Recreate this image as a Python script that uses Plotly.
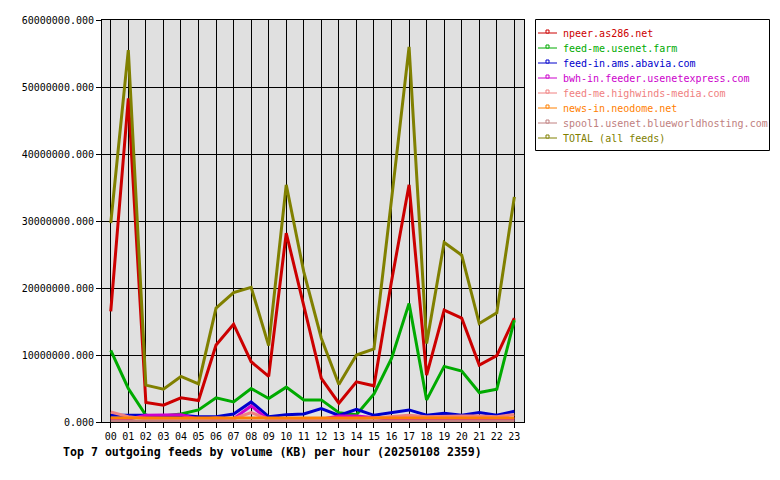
import plotly.graph_objects as go

hours = [f"{h:02d}" for h in range(24)]

feed_names = [
    "npeer.as286.net",
    "feed-me.usenet.farm",
    "feed-in.ams.abavia.com",
    "bwh-in.feeder.usenetexpress.com",
    "feed-me.highwinds-media.com",
    "news-in.neodome.net",
    "spool1.usenet.blueworldhosting.com",
    "TOTAL (all feeds)",
]
feed_colors = ["#CC0000", "#00AA00", "#0000CC", "#CC00CC", "#F08080",
               "#FF8000", "#C08080", "#808000"]

# values in KB
npeer = [16.5e6, 48.3e6, 2.9e6, 2.5e6, 3.6e6, 3.2e6, 11.5e6, 14.6e6, 9.0e6, 6.8e6,
         28.2e6, 17.5e6, 6.5e6, 2.8e6, 6.0e6, 5.4e6, 21.0e6, 35.4e6, 7.0e6, 16.7e6,
         15.5e6, 8.5e6, 9.9e6, 15.5e6]
usenet_farm = [10.7e6, 5.0e6, 1.0e6, 0.9e6, 1.2e6, 1.8e6, 3.6e6, 3.0e6, 5.0e6, 3.5e6,
               5.2e6, 3.3e6, 3.3e6, 1.4e6, 1.1e6, 4.2e6, 9.5e6, 17.7e6, 3.3e6, 8.3e6,
               7.6e6, 4.4e6, 4.9e6, 15.2e6]
abavia = [1.0e6, 1.0e6, 1.0e6, 0.8e6, 1.0e6, 0.8e6, 0.8e6, 1.2e6, 3.0e6, 0.8e6,
          1.1e6, 1.2e6, 2.0e6, 1.0e6, 1.9e6, 1.0e6, 1.4e6, 1.8e6, 1.0e6, 1.3e6,
          1.0e6, 1.4e6, 1.0e6, 1.6e6]
usenetexpress = [0.5e6, 0.4e6, 1.0e6, 1.1e6, 1.1e6, 0.4e6, 0.3e6, 0.5e6, 2.4e6, 0.3e6,
                 0.4e6, 0.4e6, 0.4e6, 0.9e6, 0.9e6, 0.7e6, 0.4e6, 0.4e6, 0.3e6, 0.3e6,
                 0.3e6, 0.3e6, 0.3e6, 0.4e6]
highwinds = [1.5e6, 0.8e6, 0.5e6, 0.5e6, 0.5e6, 0.4e6, 0.6e6, 0.5e6, 1.4e6, 0.4e6,
             0.5e6, 0.5e6, 0.5e6, 0.4e6, 0.5e6, 0.6e6, 0.8e6, 1.0e6, 0.8e6, 0.9e6,
             0.9e6, 0.9e6, 0.8e6, 1.1e6]
neodome = [0.6e6, 0.6e6, 0.6e6, 0.6e6, 0.6e6, 0.6e6, 0.6e6, 0.6e6, 0.6e6, 0.6e6,
           0.6e6, 0.6e6, 0.6e6, 0.6e6, 0.6e6, 0.6e6, 0.6e6, 0.6e6, 0.6e6, 0.6e6,
           0.6e6, 0.6e6, 0.6e6, 0.6e6]
blueworld = [0.1e6, 0.1e6, 0.1e6, 0.1e6, 0.1e6, 0.1e6, 0.1e6, 0.1e6, 0.1e6, 0.1e6,
             0.1e6, 0.1e6, 0.1e6, 0.1e6, 0.1e6, 0.1e6, 0.1e6, 0.1e6, 0.1e6, 0.1e6,
             0.1e6, 0.1e6, 0.1e6, 0.1e6]
total = [29.7e6, 55.5e6, 5.5e6, 4.9e6, 6.8e6, 5.7e6, 17.0e6, 19.3e6, 20.1e6, 11.4e6,
         35.4e6, 22.4e6, 12.5e6, 5.6e6, 10.0e6, 10.9e6, 33.2e6, 56.0e6, 11.7e6, 26.8e6,
         24.9e6, 14.7e6, 16.3e6, 33.6e6]

series = [npeer, usenet_farm, abavia, usenetexpress, highwinds, neodome, blueworld, total]

y_ticks = [0, 10e6, 20e6, 30e6, 40e6, 50e6, 60e6]
title_text = "Top 7 outgoing feeds by volume (KB) per hour (20250108 2359)"

W, H = 780, 480
L, R, T, B = 102, 524, 20, 422   # plot area pixel box
MONO = "DejaVu Sans Mono"


def px_x(px):
    return (px - L) / (R - L)


def px_y(py):
    return (B - py) / (B - T)


fig = go.Figure()
for name, vals, col in zip(feed_names, series, feed_colors):
    fig.add_trace(go.Scatter(x=hours, y=vals, mode="lines", name=name,
                             line=dict(color=col, width=3), showlegend=False))

# custom legend (box, samples, labels)
shapes = []
annotations = []
shapes.append(dict(type="rect", xref="paper", yref="paper",
                   x0=px_x(535.5), x1=px_x(769.5), y0=px_y(19.5), y1=px_y(150.5),
                   line=dict(color="black", width=1), fillcolor="white", layer="above"))
for i, (name, col) in enumerate(zip(feed_names, feed_colors)):
    yy = 33 + 15 * i
    shapes.append(dict(type="line", xref="paper", yref="paper",
                       x0=px_x(538), x1=px_x(557), y0=px_y(yy), y1=px_y(yy),
                       line=dict(color=col, width=1), layer="above"))
    shapes.append(dict(type="rect", xref="paper", yref="paper",
                       x0=px_x(546), x1=px_x(549), y0=px_y(yy), y1=px_y(yy - 3),
                       line=dict(color=col, width=1), fillcolor="white", layer="above"))
    annotations.append(dict(text=name, xref="paper", yref="paper",
                            x=px_x(561), y=px_y(yy), xanchor="left", yanchor="middle",
                            showarrow=False, font=dict(family=MONO, size=10, color=col)))

annotations.append(dict(text="<b>" + title_text + "</b>", xref="paper", yref="paper",
                        x=px_x(61), y=px_y(452), xanchor="left", yanchor="middle",
                        showarrow=False, font=dict(family=MONO, size=11.6, color="black")))

fig.update_layout(
    width=W, height=H,
    margin=dict(l=L, r=W - R, t=T, b=H - B),
    paper_bgcolor="white", plot_bgcolor="#E0E0E0",
    font=dict(family=MONO, size=10, color="black"),
    shapes=shapes, annotations=annotations,
    showlegend=False,
)
fig.update_xaxes(type="category", range=[-0.5, 23.55], showgrid=True, gridcolor="black",
                 gridwidth=1, showline=True, linecolor="black", linewidth=1, mirror=True,
                 ticks="outside", ticklen=5, tickcolor="black",
                 tickfont=dict(family=MONO, size=10), zeroline=False, fixedrange=True)
fig.update_yaxes(range=[0, 60e6], tickvals=y_ticks, tickformat=".3f", showgrid=True,
                 gridcolor="black", gridwidth=1, showline=True, linecolor="black",
                 linewidth=1, mirror=True, ticks="outside", ticklen=5, tickcolor="black",
                 tickfont=dict(family=MONO, size=10), zeroline=False, fixedrange=True)

fig.write_html("out.html")
